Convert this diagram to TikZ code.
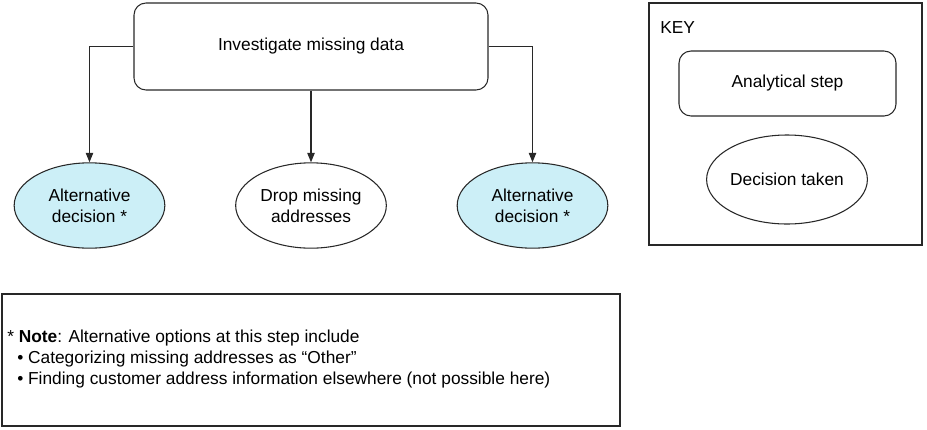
\documentclass[tikz,border=0pt]{standalone}
\usepackage{fontspec}
\setmainfont{Liberation Sans}
\usetikzlibrary{shapes.geometric,arrows.meta}
\definecolor{altblue}{RGB}{204,239,247}
\definecolor{ink}{RGB}{40,40,40}
\tikzset{
  stepbox/.style={draw=ink, line width=0.8pt, rounded corners=9pt, inner sep=0pt},
  choice/.style={draw=ink, line width=0.8pt, ellipse, inner sep=0pt,
    minimum width=113pt, minimum height=64pt, align=center},
  altchoice/.style={choice, fill=altblue},
  arr/.style={draw=ink, line width=0.8pt, -{Triangle[length=7pt,width=5.5pt]}},
  frame/.style={draw=ink, line width=0.8pt}
}
\begin{document}
\begin{tikzpicture}[x=0.75pt, y=-0.75pt, font=\fontsize{13}{15.75}\selectfont]
  \useasboundingbox (0,0) rectangle (927,429);
  % main flow
  \node[stepbox, minimum width=265.5pt, minimum height=65.25pt] (inv) at (311,46.5) {Investigate missing data};
  \foreach \x/\nm/\st/\txt in {89.5/altl/altchoice/{Alternative\\decision *},
      311/drop/choice/{Drop missing\\addresses},
      532.5/altr/altchoice/{Alternative\\decision *}} {
    \node[\st] (\nm) at (\x,205.5) {\txt};
  }
  \draw[arr] (inv.west) -| (altl.north);
  \draw[arr] (inv.south) -- (drop.north);
  \draw[arr] (inv.east) -| (altr.north);
  % key
  \node[frame, minimum width=204.75pt, minimum height=181.5pt, inner sep=0pt] (key) at (785.5,124) {};
  \node[anchor=west, inner sep=0pt] (keytitle) at (660,28) {KEY};
  \node[stepbox, minimum width=162.75pt, minimum height=48.75pt] (keystep) at (787.5,83.5) {Analytical step};
  \node[choice, minimum width=112.5pt, minimum height=66.75pt] (keychoice) at (787,179.5) {Decision taken};
  % note
  \node[frame, minimum width=463.5pt, minimum height=99pt, inner sep=0pt] (notebox) at (311,360) {};
  \node[anchor=west, align=left, inner sep=0pt] (notetext) at (7,359)
    {* \textbf{Note}: Alternative options at this step include\\
     \hspace*{7.5pt}• Categorizing missing addresses as “Other”\\
     \hspace*{7.5pt}• Finding customer address information elsewhere (not possible here)};
\end{tikzpicture}
\end{document}
